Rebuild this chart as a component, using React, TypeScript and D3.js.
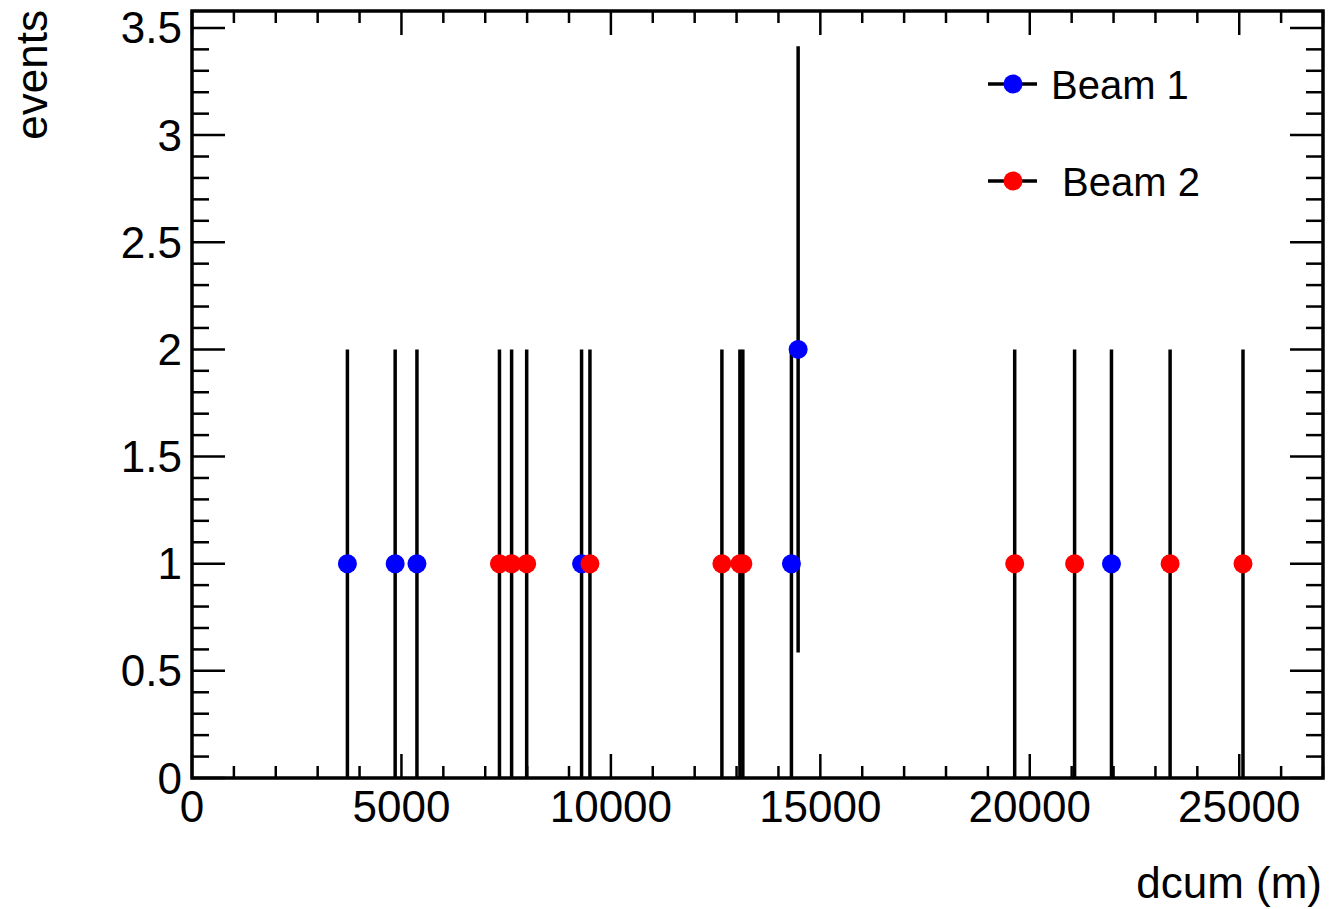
import React, { useEffect, useRef } from 'react';
import * as d3 from 'd3';

// Beam 1 (blue) events: position along the ring, counts and errors
const beam1Dcum = [3710, 4850, 5370, 9300, 14310, 14470, 21950];
const beam1Events = [1, 1, 1, 1, 1, 2, 1];
const beam1Err = [1, 1, 1, 1, 1, 1.414, 1];

// Beam 2 (red) events
const beam2Dcum = [7340, 7630, 7990, 9500, 12650, 13080, 13150, 19640, 21070, 23350, 25090];
const beam2Events = [1, 1, 1, 1, 1, 1, 1, 1, 1, 1, 1];
const beam2Err = [1, 1, 1, 1, 1, 1, 1, 1, 1, 1, 1];

const xTickValues = [0, 5000, 10000, 15000, 20000, 25000];
const yTickValues = [0, 0.5, 1, 1.5, 2, 2.5, 3, 3.5];
const legendLabels = ['Beam 1', ' Beam 2'];

export default function App() {
    const ref = useRef<SVGSVGElement>(null);

    useEffect(() => {
        const width = 1329;
        const height = 909;
        const left = 192, right = 1323, top = 11, bottom = 778;
        const font = '"Liberation Sans", Arial, Helvetica, sans-serif';

        const svg = d3.select(ref.current)
            .attr('width', width)
            .attr('height', height);
        svg.selectAll('*').remove();

        const x = d3.scaleLinear().domain([0, 27000]).range([left, right]);
        const y = d3.scaleLinear().domain([0, 3.579]).range([bottom, top]);

        svg.append('rect').attr('width', width).attr('height', height).attr('fill', 'white');

        // minor + major ticks on all four sides
        const xMinor = d3.range(0, 27001, 1000);
        const yMinor = d3.range(0, 36).map(i => i / 10);
        const ticks = svg.append('g').attr('stroke', 'black').attr('stroke-width', 2.5);

        xMinor.forEach(v => {
            const major = v % 5000 === 0;
            const len = major ? 24 : 12;
            ticks.append('line').attr('x1', x(v)).attr('x2', x(v)).attr('y1', bottom).attr('y2', bottom - len);
            ticks.append('line').attr('x1', x(v)).attr('x2', x(v)).attr('y1', top).attr('y2', top + len);
        });
        yMinor.forEach(v => {
            const major = Math.abs(v * 2 - Math.round(v * 2)) < 1e-6;
            const len = major ? 33 : 17;
            ticks.append('line').attr('x1', left).attr('x2', left + len).attr('y1', y(v)).attr('y2', y(v));
            ticks.append('line').attr('x1', right).attr('x2', right - len).attr('y1', y(v)).attr('y2', y(v));
        });

        // frame
        svg.append('rect')
            .attr('x', left).attr('y', top)
            .attr('width', right - left).attr('height', bottom - top)
            .attr('fill', 'none').attr('stroke', 'black').attr('stroke-width', 3.5);

        // tick labels
        svg.append('g').selectAll('text')
            .data(xTickValues)
            .join('text')
            .attr('x', d => x(d))
            .attr('y', 822)
            .attr('text-anchor', 'middle')
            .attr('font-family', font)
            .attr('font-size', 44)
            .text(d => d);

        svg.append('g').selectAll('text')
            .data(yTickValues)
            .join('text')
            .attr('x', 182)
            .attr('y', d => y(d) + 15.5)
            .attr('text-anchor', 'end')
            .attr('font-family', font)
            .attr('font-size', 44)
            .text(d => d);

        // axis titles
        svg.append('text')
            .attr('x', 1322).attr('y', 898)
            .attr('text-anchor', 'end')
            .attr('font-family', font).attr('font-size', 44)
            .text('dcum (m)');
        svg.append('text')
            .attr('transform', 'translate(47,10) rotate(-90)')
            .attr('text-anchor', 'end')
            .attr('font-family', font).attr('font-size', 44)
            .text('events');

        // series: error bars then markers
        const drawSeries = (xs: number[], ys: number[], errs: number[], color: string) => {
            const g = svg.append('g');
            xs.forEach((v, i) => {
                g.append('line')
                    .attr('x1', x(v)).attr('x2', x(v))
                    .attr('y1', y(Math.max(0, ys[i] - errs[i])))
                    .attr('y2', y(ys[i] + errs[i]))
                    .attr('stroke', 'black').attr('stroke-width', 3.5);
            });
            xs.forEach((v, i) => {
                g.append('circle')
                    .attr('cx', x(v)).attr('cy', y(ys[i]))
                    .attr('r', 9.5).attr('fill', color);
            });
        };
        drawSeries(beam1Dcum, beam1Events, beam1Err, '#0000ff');
        drawSeries(beam2Dcum, beam2Events, beam2Err, '#ff0000');

        // legend
        const legendColors = ['#0000ff', '#ff0000'];
        const legendRows = [84, 181];
        const legendTextX = [1051, 1051];
        legendLabels.forEach((label, i) => {
            const ly = legendRows[i];
            svg.append('line')
                .attr('x1', 988).attr('x2', 1037).attr('y1', ly).attr('y2', ly)
                .attr('stroke', 'black').attr('stroke-width', 3.5);
            svg.append('circle').attr('cx', 1013).attr('cy', ly).attr('r', 9.5).attr('fill', legendColors[i]);
            svg.append('text')
                .attr('x', legendTextX[i]).attr('y', ly + 15)
                .attr('font-family', font).attr('font-size', 40)
                .attr('xml:space', 'preserve')
                .style('white-space', 'pre')
                .text(label);
        });
    }, []);

    return (
        <div>
            <svg ref={ref} style={{ position: 'absolute', left: 0, top: 0, display: 'block' }} />
        </div>
    );
}
